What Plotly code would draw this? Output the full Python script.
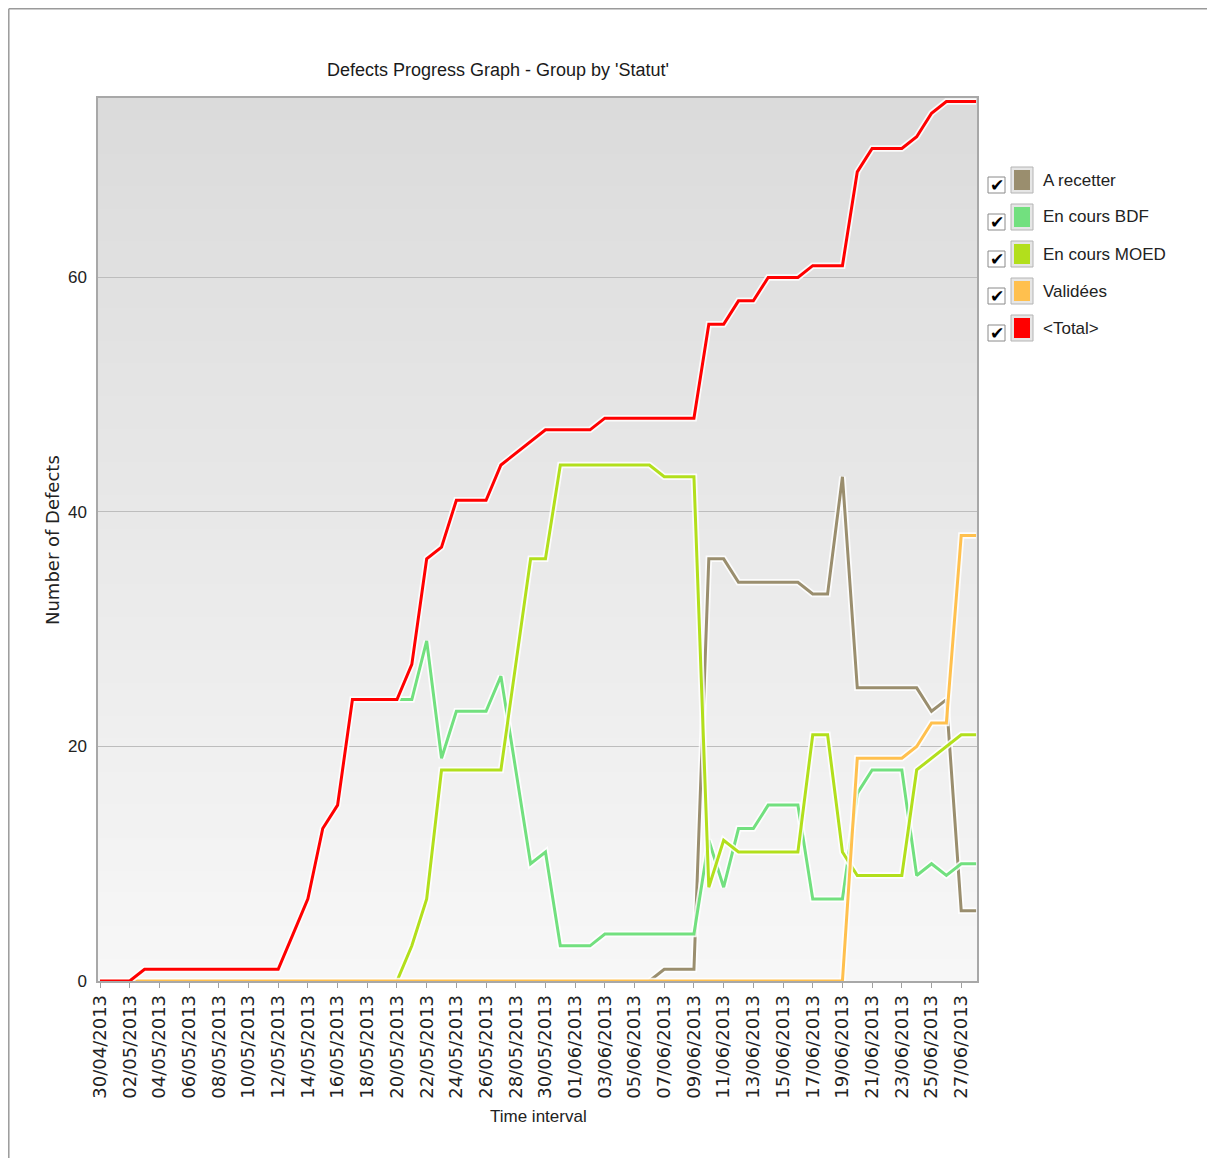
import plotly.graph_objects as go
import pandas as pd

# ---------------- data ----------------
dates = pd.date_range("2013-04-30", "2013-06-28", freq="D")

series_names = ["A recetter", "En cours BDF", "En cours MOED", "Validées", "<Total>"]
series_colors = ["#9A8E6E", "#72E07F", "#B2DF1C", "#FFC04E", "#FF0000"]

N = None
a_recetter = [N, N, N, N, N, N, N, N, N, N, N, N, N, N, N, N, N, N, N, N,
              N, N, N, N, N, N, N, N, N, N, N, N, N, N, N, N, N,
              0, 1, 1, 1, 36, 36, 34, 34, 34, 34, 34, 33, 33, 43,
              25, 25, 25, 25, 25, 23, 24, 6, 6]
en_cours_bdf = [N, N, N, N, N, N, N, N, N, N, N, N, N, N, N, N, N, N, N, N,
                24, 24, 29, 19, 23, 23, 23, 26, 18, 10, 11, 3, 3, 3,
                4, 4, 4, 4, 4, 4, 4, 12, 8, 13, 13, 15, 15, 15, 7, 7, 7,
                16, 18, 18, 18, 9, 10, 9, 10, 10]
en_cours_moed = [N, N, N, N, N, N, N, N, N, N, N, N, N, N, N, N, N, N, N, N,
                 0, 3, 7, 18, 18, 18, 18, 18, 27, 36, 36, 44, 44, 44, 44, 44, 44, 44,
                 43, 43, 43, 8, 12, 11, 11, 11, 11, 11, 21, 21, 11,
                 9, 9, 9, 9, 18, 19, 20, 21, 21]
validees = [0, 0, 0, 0, 0, 0, 0, 0, 0, 0, 0, 0, 0, 0, 0, 0, 0, 0, 0, 0,
            0, 0, 0, 0, 0, 0, 0, 0, 0, 0, 0, 0, 0, 0, 0, 0, 0, 0, 0, 0,
            0, 0, 0, 0, 0, 0, 0, 0, 0, 0, 0,
            19, 19, 19, 19, 20, 22, 22, 38, 38]
total = [0, 0, 0, 1, 1, 1, 1, 1, 1, 1, 1, 1, 1, 4, 7, 13, 15, 24, 24, 24, 24,
         27, 36, 37, 41, 41, 41, 44, 45, 46, 47, 47, 47, 47,
         48, 48, 48, 48, 48, 48, 48, 56, 56, 58, 58, 60, 60, 60, 61, 61, 61,
         69, 71, 71, 71, 72, 74, 75, 75, 75]

y_ticks = [0, 20, 40, 60]
all_series = [a_recetter, en_cours_bdf, en_cours_moed, validees, total]

# ---------------- geometry helpers ----------------
OFF = 8                      # page body margin of the browser
W, H = 1215 - OFF, 1166 - 2 * OFF
# plot area in screen pixels (reference), converted to figure pixels
L, R, T, B = 98 - OFF, 977 - OFF, 98 - OFF, 981 - OFF


def px2x(px):
    return ((px - OFF) - L) / (R - L)


def px2y(py):
    return (B - (py - OFF)) / (B - T)


fig = go.Figure()

for name, color, vals in zip(series_names, series_colors, all_series):
    # light halo under each line
    fig.add_trace(go.Scatter(x=dates, y=vals, mode="lines",
                             line=dict(color="rgba(255,255,255,0.85)", width=6.5),
                             hoverinfo="skip", showlegend=False))
    fig.add_trace(go.Scatter(x=dates, y=vals, mode="lines", name=name,
                             line=dict(color=color, width=3), showlegend=False))

shapes = []
# gradient plot background
nb = 80
c_top, c_bot = 219, 247
for i in range(nb):
    f = i / (nb - 1)
    c = round(c_bot + (c_top - c_bot) * f)
    shapes.append(dict(type="rect", xref="paper", yref="paper",
                       x0=0, x1=1, y0=i / nb, y1=(i + 1) / nb + 0.002,
                       fillcolor=f"rgb({c},{c},{c})", line=dict(width=0),
                       layer="below"))

# outer frame (top and left)
FR = 8.8
shapes.append(dict(type="line", xref="paper", yref="paper",
                   x0=px2x(FR), x1=px2x(1215), y0=px2y(FR), y1=px2y(FR),
                   line=dict(color="#9A9A9A", width=1.5)))
shapes.append(dict(type="line", xref="paper", yref="paper",
                   x0=px2x(FR), x1=px2x(FR), y0=px2y(FR), y1=px2y(1166),
                   line=dict(color="#9A9A9A", width=1.5)))

annotations = []
# custom legend with checkboxes
for i, (name, color) in enumerate(zip(series_names, series_colors)):
    yc = 180 + 37 * i
    # checkbox
    shapes.append(dict(type="rect", xref="paper", yref="paper",
                       x0=px2x(988), x1=px2x(1005), y0=px2y(yc - 3), y1=px2y(yc + 13),
                       fillcolor="white", line=dict(color="#8A8A8A", width=1)))
    annotations.append(dict(xref="paper", yref="paper", x=px2x(996.5), y=px2y(yc + 5),
                            text="✔", showarrow=False, xanchor="center", yanchor="middle",
                            font=dict(family="DejaVu Sans", size=17, color="#000000")))
    # colour swatch
    shapes.append(dict(type="rect", xref="paper", yref="paper",
                       x0=px2x(1011), x1=px2x(1033), y0=px2y(yc - 13), y1=px2y(yc + 13),
                       fillcolor="#E6E6E6", line=dict(color="#B4B4B4", width=1)))
    shapes.append(dict(type="rect", xref="paper", yref="paper",
                       x0=px2x(1014), x1=px2x(1030), y0=px2y(yc - 10), y1=px2y(yc + 10),
                       fillcolor=color, line=dict(width=0)))
    annotations.append(dict(xref="paper", yref="paper", x=px2x(1041), y=px2y(yc),
                            text=name.replace("<", "&lt;").replace(">", "&gt;"),
                            showarrow=False, xanchor="left", yanchor="middle",
                            font=dict(family="Liberation Sans", size=17, color="#222222")))

# axis titles
annotations.append(dict(xref="paper", yref="paper", x=px2x(538), y=px2y(1116),
                        text="Time interval", showarrow=False,
                        xanchor="center", yanchor="middle",
                        font=dict(family="Liberation Sans", size=17, color="#222222")))
annotations.append(dict(xref="paper", yref="paper", x=px2x(52), y=px2y(540),
                        text="Number of Defects", showarrow=False, textangle=-90,
                        xanchor="center", yanchor="middle",
                        font=dict(family="DejaVu Sans", size=18, color="#222222")))

fig.update_layout(
    width=W, height=H,
    margin=dict(l=L, r=W - R, t=T, b=H - B),
    paper_bgcolor="white",
    plot_bgcolor="rgba(0,0,0,0)",
    showlegend=False,
    title=dict(text="Defects Progress Graph - Group by 'Statut'",
               x=(498 - OFF) / W, xanchor="center",
               y=1 - (70 - OFF) / H, yanchor="middle",
               font=dict(family="Liberation Sans", size=18, color="#1A1A1A")),
    shapes=shapes,
    annotations=annotations,
    xaxis=dict(
        type="date",
        range=["2013-04-29 20:45", "2013-06-28 01:30"],
        tick0="2013-04-30", dtick=2 * 86400000,
        tickformat="%d/%m/%Y", tickangle=-90,
        ticks="outside", ticklen=5, tickcolor="#A0A0A0",
        tickfont=dict(family="DejaVu Sans", size=18, color="#222222"),
        showgrid=False, zeroline=False,
        showline=True, mirror=True, linecolor="#A8A8A8", linewidth=1.5,
    ),
    yaxis=dict(
        range=[0, 75.3],
        tickvals=y_ticks,
        ticks="", ticklabelstandoff=6,
        tickfont=dict(family="Liberation Sans", size=17, color="#222222"),
        showgrid=True, gridcolor="#BDBDBD", gridwidth=1,
        zeroline=False,
        showline=True, mirror=True, linecolor="#A8A8A8", linewidth=1.5,
    ),
)

fig.write_html("out.html")
